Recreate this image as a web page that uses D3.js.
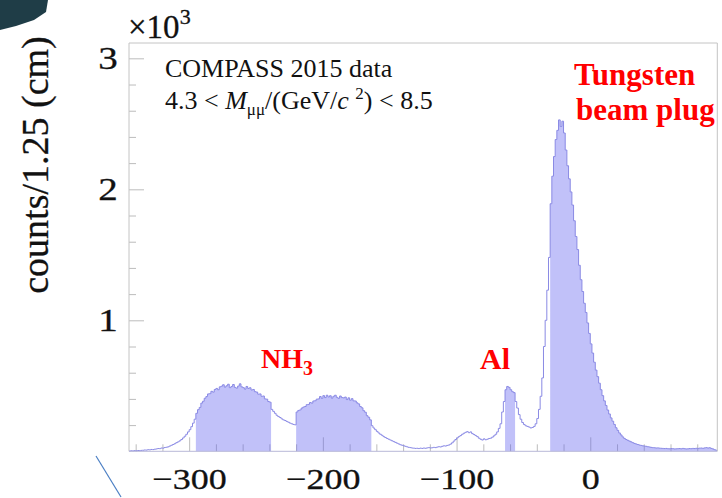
<!DOCTYPE html>
<html>
<head>
<meta charset="utf-8">
<script src="https://cdn.jsdelivr.net/npm/d3@7"></script>
<style>
  html, body { margin: 0; padding: 0; background: #ffffff; }
  svg { display: block; }
  svg text { font-family: "Liberation Serif", "DejaVu Serif", serif !important; }
</style>
</head>
<body>
<script>
// Vertex z distribution of di-muon events, 1.25 cm bins from -345 cm to +95 cm
const binStart = -345;
const binWidth = 1.25;
const counts = [
  2, 4, 3, 5, 4, 6, 5, 7,
  8, 10, 9, 12, 11, 14, 13, 16,
  18, 21, 20, 25, 24, 29, 31, 34,
  40, 46, 52, 58, 66, 72, 80, 90,
  102, 115, 130, 148, 165, 188, 215, 245,
  290, 318, 335, 368, 382, 405, 418, 438,
  440, 458, 452, 472, 480, 470, 492, 497,
  508, 490, 500, 512, 486, 495, 510, 488,
  482, 498, 515, 492, 486, 475, 495, 480,
  485, 468, 472, 455, 452, 436, 438, 420,
  422, 400, 398, 380, 375, 320, 305, 290,
  275, 265, 258, 248, 240, 235, 228, 222,
  215, 210, 205, 202, 300, 312, 316, 330,
  338, 342, 356, 358, 372, 368, 384, 386,
  398, 400, 418, 404, 425, 410, 428, 415,
  424, 406, 420, 428, 412, 404, 422, 410,
  408, 414, 395, 408, 390, 402, 385, 384,
  370, 362, 342, 332, 310, 298, 272, 260,
  240, 195, 178, 165, 152, 140, 130, 122,
  112, 105, 98, 92, 86, 80, 74, 68,
  62, 56, 50, 46, 42, 38, 34, 30,
  28, 25, 24, 22, 23, 21, 24, 22,
  25, 23, 26, 28, 25, 27, 30, 28,
  32, 35, 33, 38, 42, 40, 45, 48,
  55, 65, 78, 90, 102, 112, 120, 130,
  138, 145, 150, 142, 148, 135, 128, 120,
  112, 100, 92, 86, 95, 88, 92, 98,
  100, 108, 118, 130, 148, 175, 210, 300,
  380, 470, 495, 488, 470, 455, 448, 380,
  330, 280, 245, 220, 205, 195, 190, 185,
  178, 182, 190, 210, 250, 320, 420, 560,
  800, 1000, 1230, 1480, 1890, 2100, 2250, 2380,
  2450, 2530, 2480, 2520, 2430, 2300, 2180, 2080,
  1980, 1880, 1760, 1640, 1540, 1420, 1310, 1220,
  1130, 1060, 980, 900, 820, 750, 680, 620,
  570, 520, 470, 425, 385, 350, 315, 285,
  255, 230, 205, 180, 160, 140, 125, 110,
  98, 90, 84, 78, 72, 66, 60, 56,
  52, 48, 45, 42, 40, 38, 35, 33,
  30, 28, 27, 25, 26, 24, 23, 22,
  21, 22, 20, 19, 21, 20, 18, 19,
  20, 21, 19, 22, 20, 18, 19, 21,
  20, 22, 21, 23, 22, 24, 25, 23,
  26, 28, 25, 27, 22, 18, 12, 8
];

// z ranges of the target cells, aluminium and tungsten plug (shaded)
const filledRanges = [[-295, -238.75], [-220, -163.75], [-63.75, -56.25], [-30, 95]];

const xDomain = [-345, 95];
const yDomain = [0, 3117];
const xMajorTicks = [-300, -200, -100, 0];
const xMinorStep = 20;
const yMajorTicks = [1000, 2000, 3000];
const yTickLabels = ["1", "2", "3"];
const yMinorStep = 200;

const W = 722, H = 498;
const plot = { left: 129, right: 717.3, top: 43, bottom: 451.3 };
const serif = "'Liberation Serif', 'DejaVu Serif', serif";
const ink = "#111";

const svg = d3.select("body").append("svg")
  .attr("width", W).attr("height", H);

// slide decoration: corner graphic and thin line
svg.append("path")
  .attr("d", "M0,0 L48,0 L46,12 L34,20 L16,26 L0,30 Z")
  .attr("fill", "#1f3d47");
svg.append("line")
  .attr("x1", 96).attr("y1", 456).attr("x2", 121).attr("y2", 497)
  .attr("stroke", "#4b7fc4").attr("stroke-width", 1.2);

const x = d3.scaleLinear().domain(xDomain).range([plot.left, plot.right]);
const y = d3.scaleLinear().domain(yDomain).range([plot.bottom, plot.top]);

const bins = counts.map((c, i) => ({
  x0: binStart + i * binWidth,
  x1: binStart + (i + 1) * binWidth,
  v: c
}));

const tickColor = "#bcbcbc";

// slightly heavier black lettering
const heavy = sel => sel.attr("fill", ink).attr("stroke", ink).attr("stroke-width", 0.3);

// minor and major ticks (drawn below the shading)
const xMinor = d3.range(xDomain[0] + 5, xDomain[1], xMinorStep).filter(v => !xMajorTicks.includes(v));
const yMinor = d3.range(yMinorStep, yDomain[1], yMinorStep).filter(v => !yMajorTicks.includes(v));

const gx = svg.append("g").attr("transform", `translate(0,${plot.bottom})`);
gx.append("g").call(d3.axisBottom(x).tickValues(xMinor).tickSize(-7).tickFormat(""))
  .call(g => g.select(".domain").remove());
gx.append("g").call(d3.axisBottom(x).tickValues(xMajorTicks).tickSize(-14).tickPadding(16))
  .attr("font-family", null).attr("font-size", null)
  .call(g => g.select(".domain").remove())
  .call(g => g.selectAll("text")
    .style("font-family", serif).style("font-size", "30px")
    .attr("transform", "scale(1.2,1)")
    .call(heavy));

const gy = svg.append("g").attr("transform", `translate(${plot.left},0)`);
gy.append("g").call(d3.axisLeft(y).tickValues(yMinor).tickSize(-7).tickFormat(""))
  .call(g => g.select(".domain").remove());
gy.append("g").call(d3.axisLeft(y).tickValues(yMajorTicks).tickSize(-15).tickPadding(11)
    .tickFormat((d, i) => yTickLabels[i]))
  .attr("font-family", null).attr("font-size", null)
  .call(g => g.select(".domain").remove())
  .call(g => g.selectAll("text")
    .style("font-family", serif).style("font-size", "32px")
    .attr("x", -9.2).attr("transform", "scale(1.22,1)")
    .call(heavy));

svg.selectAll(".tick line").attr("stroke", tickColor).attr("stroke-width", 1);

// step outline builder
const stepPoints = arr => arr.flatMap(b => [[b.x0, b.v], [b.x1, b.v]]);

// shaded regions
const area = d3.area()
  .x(d => x(d[0]))
  .y0(y(0))
  .y1(d => y(d[1]));

filledRanges.forEach(([a, b]) => {
  const sub = bins.filter(d => d.x0 >= a - 1e-6 && d.x1 <= b + 1e-6);
  svg.append("path")
    .attr("d", area(stepPoints(sub)))
    .attr("fill", "rgb(100,100,240)")
    .attr("fill-opacity", 0.4)
    .attr("stroke", "none");
});

// histogram outline
const line = d3.line().x(d => x(d[0])).y(d => y(d[1]));
svg.append("path")
  .attr("d", line(stepPoints(bins)))
  .attr("fill", "none")
  .attr("stroke", "#8a8ae4")
  .attr("stroke-width", 1);

// frame
const frameColor = "#c4c4c4";
svg.append("path")
  .attr("d", `M${plot.left},${plot.bottom} L${plot.left},${plot.top} L${plot.right},${plot.top} L${plot.right},${plot.bottom}`)
  .attr("fill", "none").attr("stroke", frameColor).attr("stroke-width", 1);
svg.append("line")
  .attr("x1", plot.left).attr("x2", plot.right)
  .attr("y1", plot.bottom).attr("y2", plot.bottom)
  .attr("stroke", "#b8b8d8").attr("stroke-width", 1);

// exponent marker
const expo = svg.append("text").attr("x", 128).attr("y", 38)
  .style("font-family", serif).style("font-size", "33px").call(heavy);
expo.append("tspan").text("×10");
expo.append("tspan").style("font-size", "22px").attr("dy", -14).text("3");

// y axis title
svg.append("text")
  .attr("transform", "translate(48,165) rotate(-90)")
  .attr("text-anchor", "middle")
  .style("font-family", serif).style("font-size", "38px")
  .call(heavy)
  .text("counts/1.25 (cm)");

// data description
svg.append("text").attr("x", 165).attr("y", 77)
  .style("font-family", serif).style("font-size", "26px").attr("fill", ink)
  .text("COMPASS 2015 data");
const cut = svg.append("text").attr("x", 165).attr("y", 109)
  .style("font-family", serif).style("font-size", "26px").attr("fill", ink);
cut.append("tspan").text("4.3 < ");
cut.append("tspan").attr("font-style", "italic").text("M");
cut.append("tspan").style("font-size", "17px").attr("dy", 6).text("μμ");
cut.append("tspan").attr("dy", -6).text("/(GeV/");
cut.append("tspan").attr("font-style", "italic").text("c ");
cut.append("tspan").style("font-size", "17px").attr("dy", -10).text("2");
cut.append("tspan").attr("dy", 10).text(") < 8.5");

// region labels
const red = "#ff0000";
const tung = svg.append("text").style("font-family", serif).style("font-size", "31px")
  .attr("font-weight", "bold").attr("fill", red);
tung.append("tspan").attr("x", 574).attr("y", 85).text("Tungsten");
tung.append("tspan").attr("x", 576).attr("y", 120).text("beam plug");

const nh3 = svg.append("text").attr("x", 261).attr("y", 368)
  .style("font-family", serif).style("font-size", "28px")
  .attr("font-weight", "bold").attr("fill", red);
nh3.append("tspan").text("NH");
nh3.append("tspan").style("font-size", "20px").attr("dy", 7).text("3");

svg.append("text").attr("x", 480).attr("y", 369)
  .style("font-family", serif).style("font-size", "30px")
  .attr("font-weight", "bold").attr("fill", red)
  .text("Al");
</script>
</body>
</html>
